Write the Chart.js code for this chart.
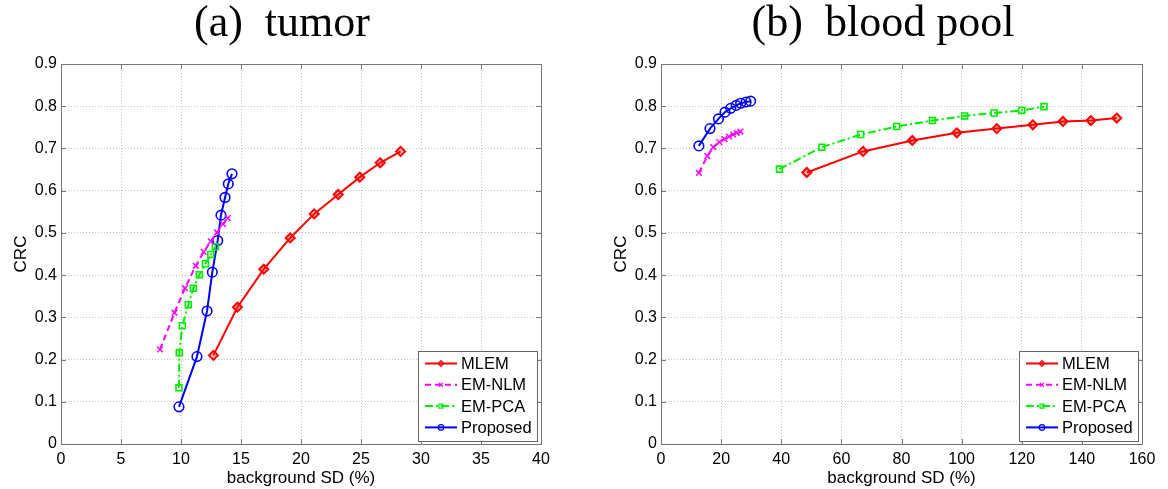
<!DOCTYPE html>
<html>
<head>
<meta charset="utf-8">
<script src="https://cdn.jsdelivr.net/npm/chart.js@4.4.0/dist/chart.umd.min.js"></script>
<style>
  html, body { margin: 0; padding: 0; background: #fff; }
  #wrap { position: relative; width: 1168px; height: 489px; }
  .panel { position: absolute; top: 0; }
</style>
</head>
<body>
<div id="wrap">
  <canvas id="tumorChart" class="panel" style="left:0" width="564" height="489"></canvas>
  <canvas id="bloodChart" class="panel" style="left:600px" width="566" height="489"></canvas>
</div>
<script>
// (a) tumor: background SD (%) vs CRC
const tumorMLEM_x = [12.7, 14.7, 16.9, 19.1, 21.1, 23.1, 24.9, 26.6, 28.3];
const tumorMLEM_y = [0.210, 0.324, 0.414, 0.488, 0.545, 0.591, 0.632, 0.666, 0.693];
const tumorNLM_x = [8.25, 9.46, 10.33, 11.23, 11.89, 12.48, 13.0, 13.5, 13.89];
const tumorNLM_y = [0.224, 0.311, 0.369, 0.422, 0.455, 0.480, 0.501, 0.521, 0.535];
const tumorPCA_x = [9.83, 9.86, 10.11, 10.61, 11.03, 11.53, 12.03, 12.48, 12.86];
const tumorPCA_y = [0.133, 0.216, 0.280, 0.330, 0.369, 0.401, 0.427, 0.449, 0.467];
const tumorProp_x = [9.83, 11.33, 12.17, 12.61, 13.06, 13.33, 13.67, 13.94, 14.25];
const tumorProp_y = [0.088, 0.207, 0.315, 0.407, 0.482, 0.542, 0.584, 0.616, 0.640];

// (b) blood pool
const bloodMLEM_x = [48.5, 67.2, 83.6, 98.4, 111.7, 123.7, 133.7, 143.0, 151.6];
const bloodMLEM_y = [0.643, 0.693, 0.719, 0.737, 0.747, 0.756, 0.764, 0.766, 0.772];
const bloodNLM_x = [12.6, 15.4, 17.4, 19.4, 21.1, 22.6, 24.0, 25.2, 26.4];
const bloodNLM_y = [0.642, 0.682, 0.703, 0.715, 0.722, 0.728, 0.733, 0.737, 0.740];
const bloodPCA_x = [39.4, 53.5, 66.4, 78.4, 90.3, 101.0, 110.8, 120.0, 127.4];
const bloodPCA_y = [0.651, 0.703, 0.733, 0.752, 0.766, 0.777, 0.784, 0.790, 0.799];
const bloodProp_x = [12.6, 16.3, 19.1, 21.3, 23.2, 25.0, 26.5, 28.3, 29.8];
const bloodProp_y = [0.706, 0.747, 0.770, 0.786, 0.795, 0.802, 0.807, 0.810, 0.812];

const seriesNames = ['MLEM', 'EM-NLM', 'EM-PCA', 'Proposed'];
const yTicks = [0, 0.1, 0.2, 0.3, 0.4, 0.5, 0.6, 0.7, 0.8, 0.9];

const FONT = '"Liberation Sans", Arial, sans-serif';
const AXIS = '#777';

function pts(xs, ys) {
  return xs.map((x, i) => ({ x: x, y: ys[i] }));
}

function makeDatasets(mx, my, nx, ny, px, py, qx, qy) {
  return [
    { label: seriesNames[0], data: pts(mx, my), borderColor: '#ff0000', pointBorderColor: '#ff0000',
      pointBackgroundColor: 'rgba(255,0,0,0.3)', pointStyle: 'rectRot', pointRadius: 4.5, pointBorderWidth: 2 },
    { label: seriesNames[1], data: pts(nx, ny), borderColor: '#ff00ff', pointBorderColor: '#ff00ff',
      pointBackgroundColor: 'rgba(0,0,0,0)', pointStyle: 'crossRot', pointRadius: 4, pointBorderWidth: 1.5,
      borderDash: [6, 4] },
    { label: seriesNames[2], data: pts(px, py), borderColor: '#00ee00', pointBorderColor: '#00ee00',
      pointBackgroundColor: 'rgba(0,0,0,0)', pointStyle: 'rect', pointRadius: 4.2, pointBorderWidth: 1.6,
      borderDash: [8, 3, 2, 3] },
    { label: seriesNames[3], data: pts(qx, qy), borderColor: '#0000ff', pointBorderColor: '#0000ff',
      pointBackgroundColor: 'rgba(0,0,0,0)', pointStyle: 'circle', pointRadius: 4.8, pointBorderWidth: 1.6 }
  ].map(d => Object.assign(d, { borderWidth: 2, fill: false, tension: 0 }));
}

// box round the plot and inward ticks, matlab style
const framePlugin = {
  id: 'frame',
  afterDraw(chart) {
    const { ctx, chartArea: a, scales } = chart;
    ctx.save();
    ctx.strokeStyle = AXIS;
    ctx.lineWidth = 1;
    ctx.strokeRect(a.left + 0.5, a.top + 0.5, a.right - a.left, a.bottom - a.top);
    ctx.beginPath();
    scales.x.ticks.forEach(t => {
      const x = Math.round(scales.x.getPixelForValue(t.value)) + 0.5;
      ctx.moveTo(x, a.bottom); ctx.lineTo(x, a.bottom - 5);
      ctx.moveTo(x, a.top); ctx.lineTo(x, a.top + 5);
    });
    scales.y.ticks.forEach(t => {
      const y = Math.round(scales.y.getPixelForValue(t.value)) + 0.5;
      ctx.moveTo(a.left, y); ctx.lineTo(a.left + 5, y);
      ctx.moveTo(a.right, y); ctx.lineTo(a.right - 5, y);
    });
    ctx.stroke();
    ctx.restore();
  }
};

const legendPlugin = {
  id: 'boxLegend',
  afterDraw(chart) {
    const { ctx, chartArea: a } = chart;
    const w = 119, h = 90;
    const left = Math.round(a.right - 4 - w), top = Math.round(a.bottom - 3 - h);
    ctx.save();
    ctx.fillStyle = '#fff';
    ctx.fillRect(left, top, w, h);
    ctx.strokeStyle = '#666';
    ctx.lineWidth = 1;
    ctx.strokeRect(left + 0.5, top + 0.5, w, h);
    chart.data.datasets.forEach((ds, i) => {
      const y = top + 12.5 + i * 21.3;
      ctx.strokeStyle = ds.borderColor;
      ctx.lineWidth = 2;
      ctx.setLineDash(ds.borderDash || []);
      ctx.beginPath();
      ctx.moveTo(left + 7, y);
      ctx.lineTo(left + 39, y);
      ctx.stroke();
      ctx.setLineDash([]);
      ctx.fillStyle = ds.pointBackgroundColor;
      ctx.lineWidth = 1.2;
      if (Chart.helpers && Chart.helpers.drawPoint) {
        Chart.helpers.drawPoint(ctx, { pointStyle: ds.pointStyle, radius: 2.8, borderWidth: 1.2, rotation: 0 }, left + 23, y);
      }
      ctx.fillStyle = '#000';
      ctx.font = '16.5px ' + FONT;
      ctx.textBaseline = 'middle';
      ctx.textAlign = 'left';
      ctx.fillText(ds.label, left + 43, y + 1);
    });
    ctx.restore();
  }
};

function makeChart(id, title, xMax, xStep, datasets, rightPad) {
  return new Chart(document.getElementById(id), {
    type: 'line',
    data: { datasets: datasets },
    options: {
      responsive: false,
      animation: false,
      layout: { padding: 0 },
      plugins: {
        legend: { display: false },
        tooltip: { enabled: false },
        title: {
          display: true,
          text: title,
          color: '#000',
          font: { family: '"Liberation Serif", "Times New Roman", serif', size: 44, weight: 'normal', lineHeight: 1 },
          padding: { top: 2, bottom: 18 }
        }
      },
      scales: {
        x: {
          type: 'linear',
          min: 0, max: xMax,
          afterFit: s => { s.height = 45; },
          ticks: { stepSize: xStep, color: '#000', padding: 6, font: { family: FONT, size: 16 }, maxRotation: 0 },
          grid: { color: '#c4c4c4', lineWidth: 1, drawTicks: false },
          border: { display: true, color: AXIS, dash: [1, 2] },
          title: { display: true, text: 'background SD (%)', color: '#000',
                   font: { family: FONT, size: 17 }, padding: { top: 0, bottom: 0 } }
        },
        y: {
          type: 'linear',
          min: 0, max: 0.9,
          afterFit: s => { s.width = 61; },
          afterBuildTicks: s => { s.ticks = yTicks.map(v => ({ value: v })); },
          ticks: { color: '#000', padding: 4, font: { family: FONT, size: 16 },
                   callback: v => String(+v.toFixed(1)) },
          grid: { color: '#c4c4c4', lineWidth: 1, drawTicks: false },
          border: { display: true, color: AXIS, dash: [1, 2] },
          title: { display: true, text: 'CRC', color: '#000',
                   font: { family: FONT, size: 17 }, padding: { top: 11, bottom: 0 } }
        },
        // empty spacer on the right so the title stays centred on the whole panel
        spacer: {
          type: 'linear',
          position: 'right',
          display: true,
          afterFit: s => { s.width = rightPad; },
          ticks: { display: false },
          grid: { display: false, drawTicks: false },
          border: { display: false }
        }
      }
    },
    plugins: [framePlugin, legendPlugin]
  });
}

makeChart('tumorChart', '(a)  tumor', 40, 5,
  makeDatasets(tumorMLEM_x, tumorMLEM_y, tumorNLM_x, tumorNLM_y, tumorPCA_x, tumorPCA_y, tumorProp_x, tumorProp_y), 23);
makeChart('bloodChart', '(b)  blood pool', 160, 20,
  makeDatasets(bloodMLEM_x, bloodMLEM_y, bloodNLM_x, bloodNLM_y, bloodPCA_x, bloodPCA_y, bloodProp_x, bloodProp_y), 24);
</script>
</body>
</html>
